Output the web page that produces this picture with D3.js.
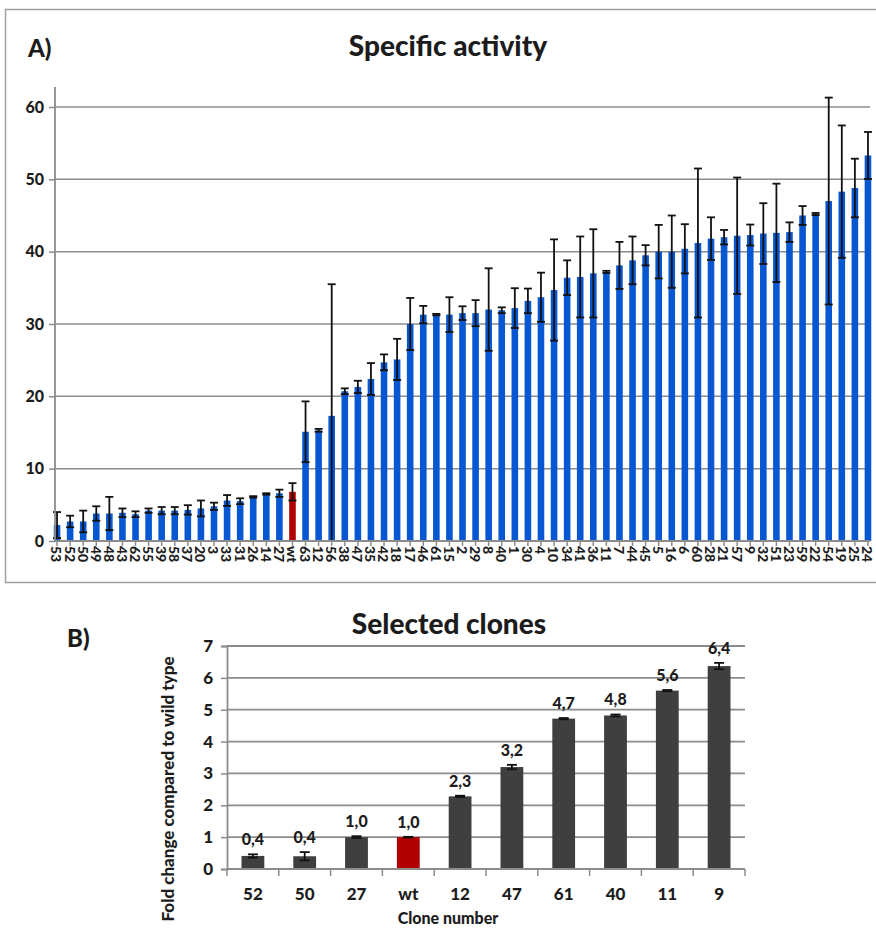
<!DOCTYPE html>
<html>
<head>
<meta charset="utf-8">
<script src="https://cdn.jsdelivr.net/npm/d3@7/dist/d3.min.js"></script>
<style>
    body { margin: 0; background: #fff; }
    svg text { font-family: Lato, "Open Sans", sans-serif; font-weight: 900; fill: #1c1c1c; }
</style>
</head>
<body>
<div class="viewport"></div>
<script>
// A) specific activity, clones sorted by value
var clones = ["53", "52", "50", "49", "48", "43", "62", "55", "39", "58", "37", "20", "3", "33", "31", "26", "14", "27", "wt",
    "63", "12", "56", "38", "47", "35", "42", "18", "17", "46", "61", "15", "2", "29", "8", "40", "1", "30", "4", "10", "34",
    "41", "36", "11", "7", "44", "45", "5", "16", "6", "60", "28", "21", "57", "9", "32", "51", "23", "59", "22", "54", "19", "25", "24"];
var activity = [2.2, 2.7, 2.7, 3.8, 3.8, 3.9, 3.7, 4.2, 4.2, 4.2, 4.3, 4.5, 4.8, 5.6, 5.5, 6.1, 6.5, 6.6, 6.8,
    15.1, 15.3, 17.3, 20.7, 21.3, 22.4, 24.7, 25.1, 30.0, 31.3, 31.3, 31.3, 31.5, 31.5, 32.0, 31.9, 32.2, 33.2, 33.7, 34.7, 36.4,
    36.5, 37.0, 37.2, 38.1, 38.8, 39.5, 40.0, 40.0, 40.4, 41.2, 41.8, 42.0, 42.2, 42.3, 42.5, 42.6, 42.7, 45.0, 45.2, 47.0, 48.3, 48.8, 53.3];
var activityErr = [1.8, 0.8, 1.5, 1.0, 2.3, 0.6, 0.4, 0.3, 0.5, 0.5, 0.65, 1.1, 0.5, 0.75, 0.4, 0.1, 0.1, 0.5, 1.2,
    4.2, 0.2, 18.2, 0.4, 0.85, 2.2, 1.1, 2.85, 3.6, 1.2, 0.1, 2.4, 0.95, 1.8, 5.7, 0.4, 2.75, 1.7, 3.4, 7.0, 2.4,
    5.6, 6.1, 0.15, 3.25, 3.3, 1.4, 3.7, 5.0, 3.4, 10.3, 2.95, 1.0, 8.05, 1.45, 4.2, 6.8, 1.35, 1.3, 0.15, 14.3, 9.15, 4.05, 3.25];
var ticksA = [0, 10, 20, 30, 40, 50, 60];

// B) fold change of the selected clones
var selected = ["52", "50", "27", "wt", "12", "47", "61", "40", "11", "9"];
var foldChange = [0.41, 0.40, 1.0, 1.0, 2.28, 3.2, 4.72, 4.82, 5.6, 6.37];
var foldErr = [0.05, 0.13, 0.03, 0.01, 0.02, 0.07, 0.02, 0.03, 0.02, 0.1];
var ticksB = [0, 1, 2, 3, 4, 5, 6, 7];

var blue = "#0657d1",
    red = "#b00000",
    grey = "#3f3f3f",
    gridColor = "#8c8c8c";

function letsGo() {

    var svg = d3.select(".viewport").append("svg")
        .attr("width", 876)
        .attr("height", 928);

    drawActivity(svg);
    drawSelected(svg);

    function drawActivity(svg) {

        var x, y, g;

        // frame, open on the right like the cropped original
        svg.append("path")
            .attr("d", "M876,9.5H5.5V582.5H876")
            .attr("fill", "none").attr("stroke", "#a0a0a0").attr("stroke-width", 1.5);

        svg.append("text").attr("x", 28).attr("y", 57).style("font-size", "24px").text("A)");
        svg.append("text").attr("x", 448).attr("y", 56).attr("text-anchor", "middle")
            .style("font-size", "28px").text("Specific activity");

        x = d3.scaleBand().domain(clones).range([50.5, 874.5]);
        y = d3.scaleLinear().domain([0, 60]).range([541, 107]);

        g = svg.append("g");

        // grid
        g.selectAll("line.grid").data(ticksA.slice(1)).enter().append("line")
            .attr("class", "grid")
            .attr("x1", 55).attr("x2", 870)
            .attr("y1", function(d) { return y(d); }).attr("y2", function(d) { return y(d); })
            .attr("stroke", gridColor).attr("stroke-width", 1.5);

        var data = clones.map(function(c, i) { return { name: c, v: activity[i], e: activityErr[i] }; });

        g.selectAll("rect.bar").data(data).enter().append("rect")
            .attr("class", "bar")
            .attr("x", function(d) { return x(d.name) + x.bandwidth() / 2 - 3.3; })
            .attr("width", 6.6)
            .attr("y", function(d) { return y(d.v); })
            .attr("height", function(d) { return y(0) - y(d.v); })
            .attr("fill", function(d) { return d.name === "wt" ? red : blue; });

        var err = g.selectAll("g.err").data(data).enter().append("g")
            .attr("class", "err")
            .attr("transform", function(d) { return "translate(" + (x(d.name) + x.bandwidth() / 2) + ",0)"; })
            .attr("stroke", "#111").attr("stroke-width", 1.8);
        err.append("line")
            .attr("y1", function(d) { return y(d.v + d.e); })
            .attr("y2", function(d) { return y(Math.max(0, d.v - d.e)); });
        err.append("line").attr("x1", -4).attr("x2", 4)
            .attr("y1", function(d) { return y(d.v + d.e); }).attr("y2", function(d) { return y(d.v + d.e); });
        err.filter(function(d) { return d.v - d.e > 0; }).append("line").attr("x1", -4).attr("x2", 4)
            .attr("y1", function(d) { return y(d.v - d.e); }).attr("y2", function(d) { return y(d.v - d.e); });

        // axes
        var yAxis = g.append("g").attr("transform", "translate(55,0)")
            .call(d3.axisLeft(y).tickValues(ticksA).tickFormat(d3.format("d")).tickSize(6).tickPadding(5));
        yAxis.select(".domain").attr("d", "M0," + y(0) + "V87");
        styleAxis(yAxis, "16px");

        var xAxis = g.append("g").attr("transform", "translate(0," + y(0) + ")")
            .call(d3.axisBottom(x).tickSize(5).tickSizeOuter(0));
        xAxis.select(".domain").attr("d", "M55,0H870");
        styleAxis(xAxis, "14px");
        xAxis.selectAll(".tick text")
            .attr("transform", "rotate(90)")
            .attr("text-anchor", "start")
            .attr("x", 5).attr("y", 0).attr("dy", "0.4em");
    }

    function drawSelected(svg) {

        var x, y, g;

        svg.append("text").attr("x", 67).attr("y", 647).style("font-size", "24px").text("B)");
        svg.append("text").attr("x", 449).attr("y", 634).attr("text-anchor", "middle")
            .style("font-size", "28px").text("Selected clones");

        x = d3.scaleBand().domain(selected).range([227, 745]);
        y = d3.scaleLinear().domain([0, 7]).range([869, 646]);

        g = svg.append("g");

        g.selectAll("line.grid").data(ticksB.slice(1)).enter().append("line")
            .attr("class", "grid")
            .attr("x1", 227).attr("x2", 745)
            .attr("y1", function(d) { return y(d); }).attr("y2", function(d) { return y(d); })
            .attr("stroke", gridColor).attr("stroke-width", 1.8);

        var data = selected.map(function(c, i) { return { name: c, v: foldChange[i], e: foldErr[i] }; });
        var bw = x.bandwidth() * 0.44;
        var fmt = d3.format(".1f");

        g.selectAll("rect.bar").data(data).enter().append("rect")
            .attr("class", "bar")
            .attr("x", function(d) { return x(d.name) + (x.bandwidth() - bw) / 2; })
            .attr("width", bw)
            .attr("y", function(d) { return y(d.v); })
            .attr("height", function(d) { return y(0) - y(d.v); })
            .attr("fill", function(d) { return d.name === "wt" ? red : grey; });

        var err = g.selectAll("g.err").data(data).enter().append("g")
            .attr("class", "err")
            .attr("transform", function(d) { return "translate(" + (x(d.name) + x.bandwidth() / 2) + ",0)"; })
            .attr("stroke", "#111").attr("stroke-width", 1.8);
        err.append("line")
            .attr("y1", function(d) { return y(d.v + d.e); })
            .attr("y2", function(d) { return y(d.v - d.e); });
        err.append("line").attr("x1", -5).attr("x2", 5)
            .attr("y1", function(d) { return y(d.v + d.e); }).attr("y2", function(d) { return y(d.v + d.e); });
        err.append("line").attr("x1", -5).attr("x2", 5)
            .attr("y1", function(d) { return y(d.v - d.e); }).attr("y2", function(d) { return y(d.v - d.e); });

        g.selectAll("text.val").data(data).enter().append("text")
            .attr("class", "val")
            .attr("x", function(d) { return x(d.name) + x.bandwidth() / 2; })
            .attr("y", function(d) { return y(d.v + d.e) - 9; })
            .attr("text-anchor", "middle")
            .style("font-size", "16px")
            .text(function(d) { return fmt(d.v).replace(".", ","); });

        var yAxis = g.append("g").attr("transform", "translate(227,0)")
            .call(d3.axisLeft(y).tickValues(ticksB).tickFormat(d3.format("d")).tickSize(6).tickPadding(8));
        styleAxis(yAxis, "17px");

        var xAxis = g.append("g").attr("transform", "translate(0," + y(0) + ")")
            .call(d3.axisBottom(x).tickSize(0).tickPadding(19).tickSizeOuter(0));
        xAxis.select(".domain").attr("d", "M227,0H745");
        xAxis.selectAll("line.sep").data(selected.concat([""])).enter().append("line")
            .attr("class", "sep")
            .attr("x1", function(d, i) { return 227 + i * x.step(); })
            .attr("x2", function(d, i) { return 227 + i * x.step(); })
            .attr("y1", 0).attr("y2", 7)
            .attr("stroke", gridColor).attr("stroke-width", 1.5);
        styleAxis(xAxis, "17px");

        svg.append("text").attr("x", 448).attr("y", 924).attr("text-anchor", "middle")
            .style("font-size", "16px").text("Clone number");
        svg.append("text")
            .attr("transform", "translate(174,789) rotate(-90)")
            .attr("text-anchor", "middle")
            .style("font-size", "17px").text("Fold change compared to wild type");
    }

    function styleAxis(ax, size) {
        ax.select(".domain").attr("stroke", gridColor).attr("stroke-width", 1.8);
        ax.selectAll(".tick line").attr("stroke", gridColor).attr("stroke-width", 1.5);
        ax.selectAll(".tick text").style("font-family", "Lato, sans-serif").style("font-weight", "900")
            .style("font-size", size).attr("fill", "#1c1c1c");
    }
}

letsGo();
</script>
</body>
</html>
